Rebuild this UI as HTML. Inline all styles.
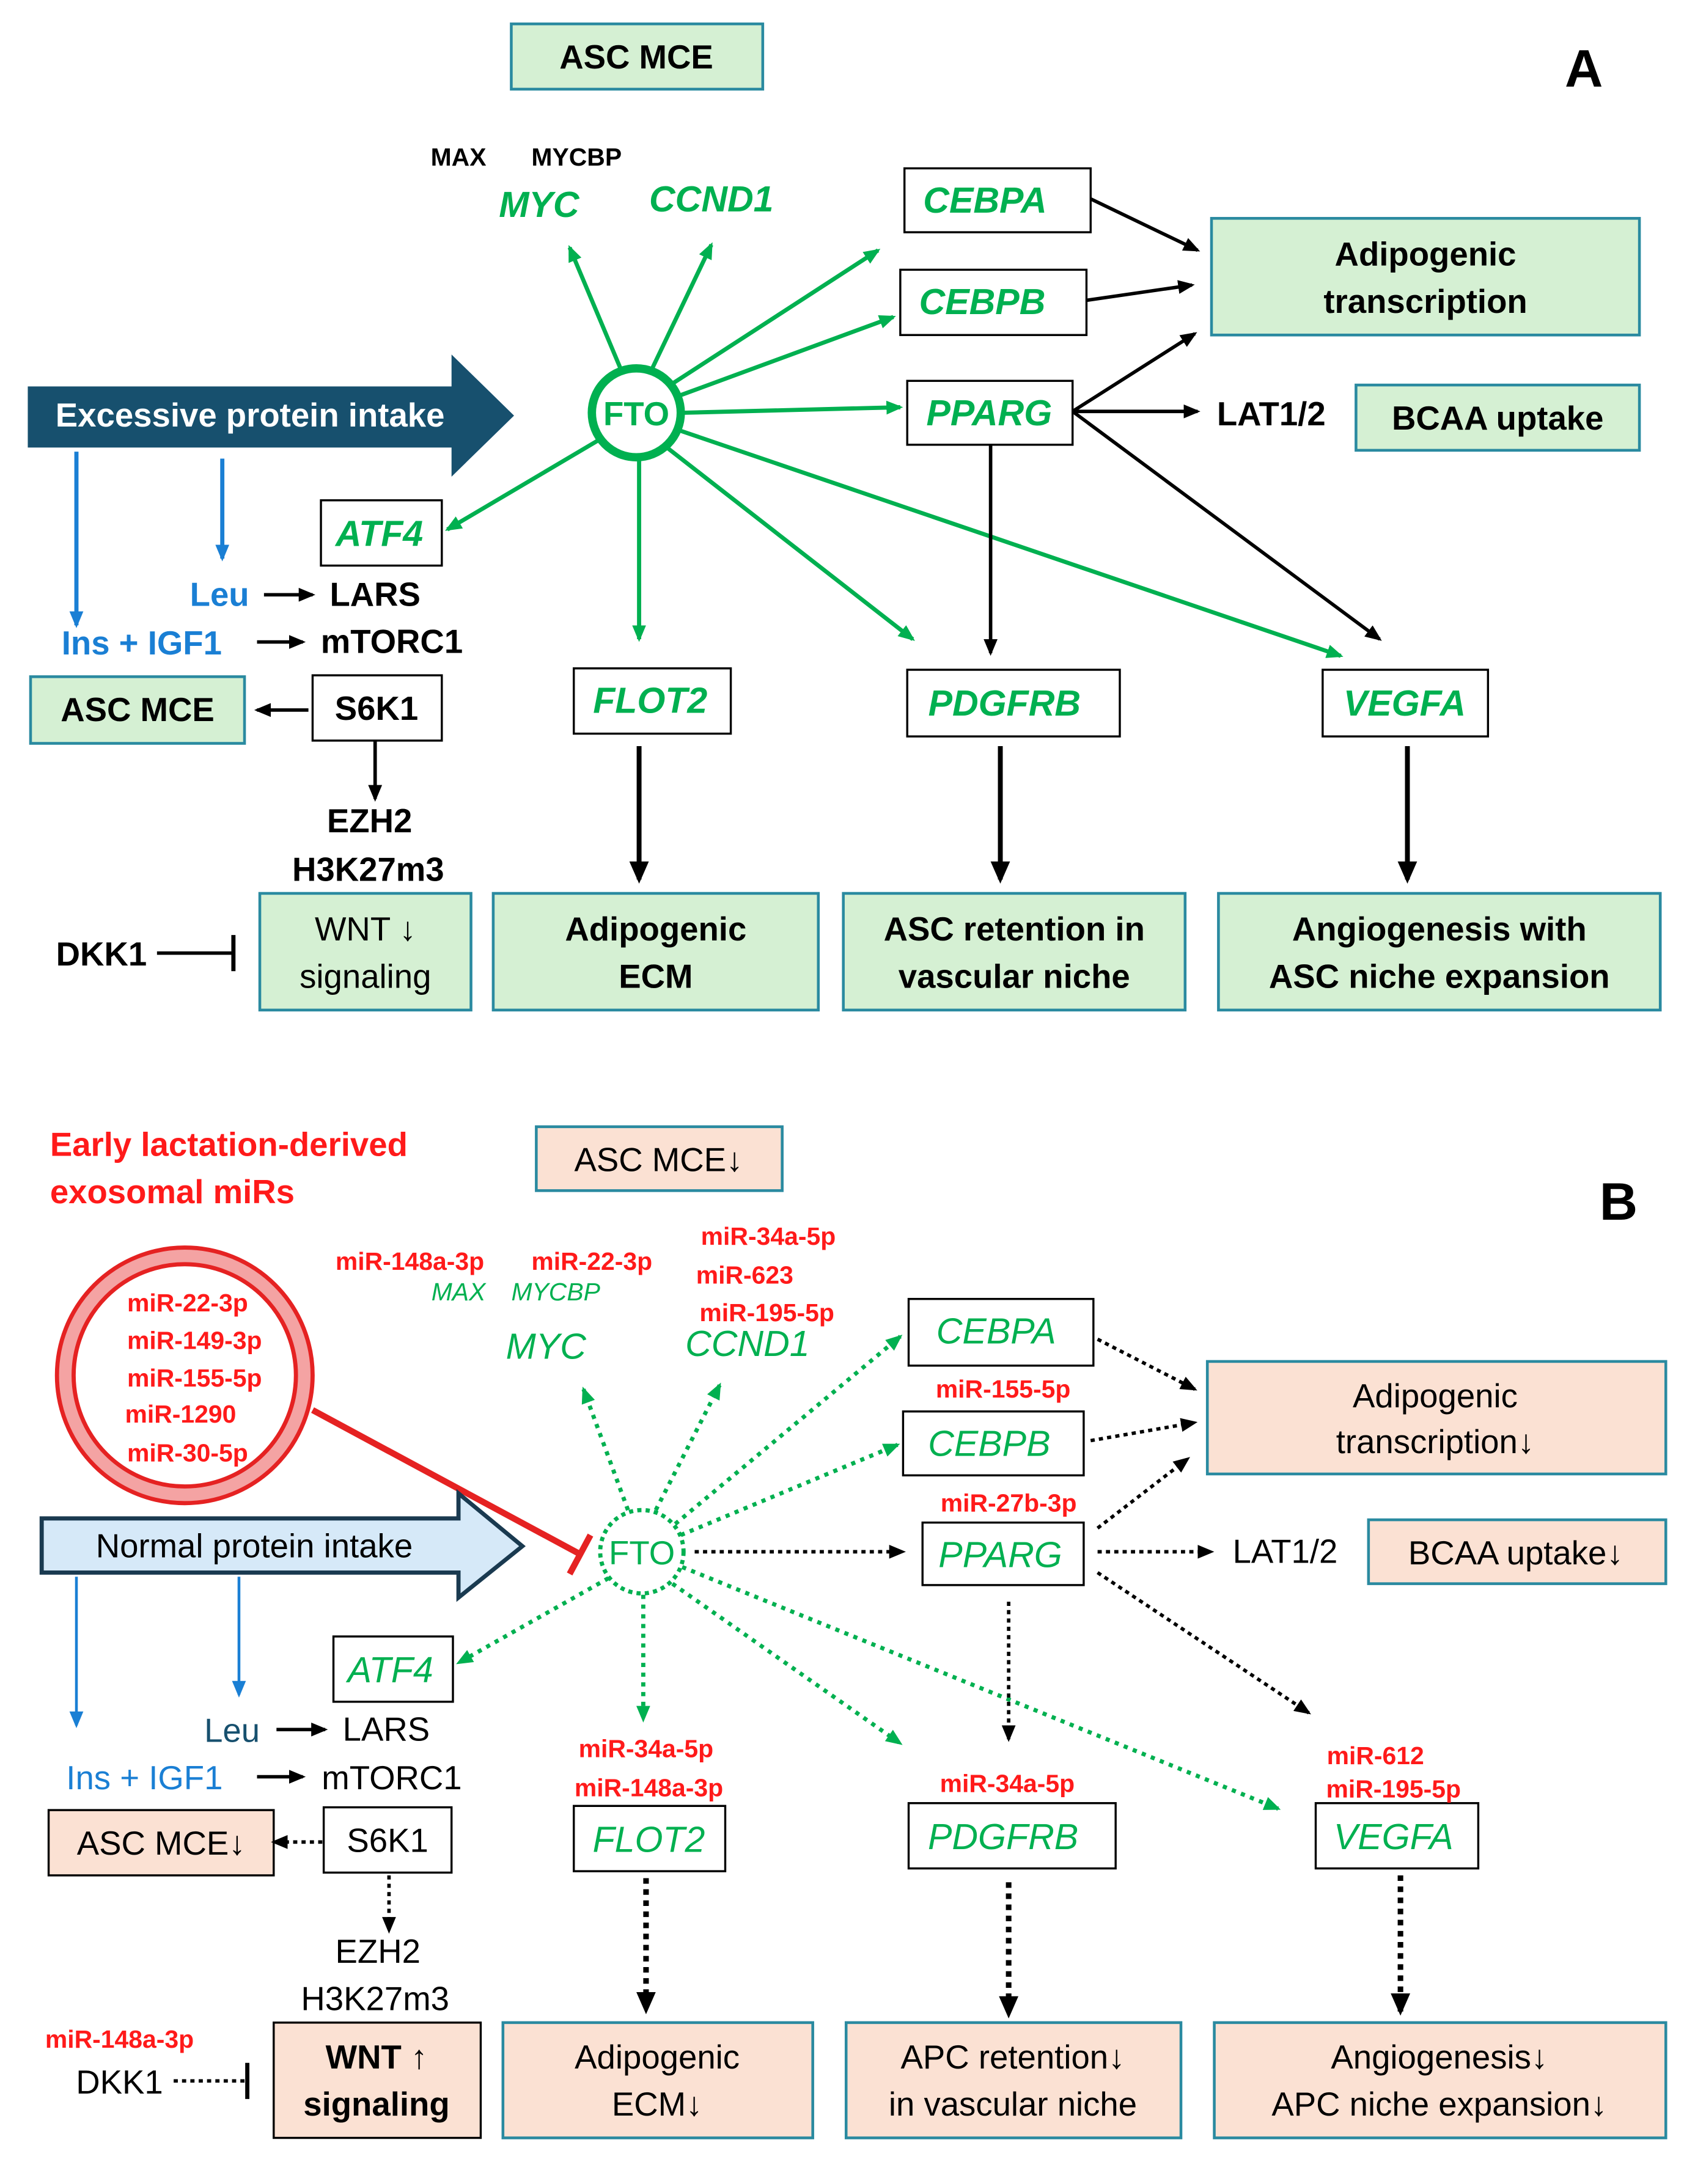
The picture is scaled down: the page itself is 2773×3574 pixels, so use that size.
<!DOCTYPE html>
<html><head><meta charset="utf-8"><style>
html,body{margin:0;padding:0;background:#fff}
svg{display:block}
text{font-family:"Liberation Sans",sans-serif}
.b{font-weight:bold}
.g{fill:#00b050;font-style:italic;font-weight:bold}
.gn{fill:#00b050;font-style:italic}
.r{fill:#ff1a1a;font-weight:bold}
</style></head><body>
<svg width="2773" height="3574" viewBox="0 0 1220 1572" xmlns="http://www.w3.org/2000/svg">
<defs>
<marker id="ag" markerUnits="userSpaceOnUse" markerWidth="12" markerHeight="10" refX="10" refY="5" orient="auto"><path d="M0,0 L12,5 L0,10 z" fill="#00b050"/></marker>
<marker id="ak" markerUnits="userSpaceOnUse" markerWidth="12" markerHeight="10" refX="10" refY="5" orient="auto"><path d="M0,0 L12,5 L0,10 z" fill="#000"/></marker>
<marker id="ab" markerUnits="userSpaceOnUse" markerWidth="12" markerHeight="10" refX="10" refY="5" orient="auto"><path d="M0,0 L12,5 L0,10 z" fill="#1a7fd4"/></marker>
<marker id="akb" markerUnits="userSpaceOnUse" markerWidth="16" markerHeight="14" refX="13" refY="7" orient="auto"><path d="M0,0 L16,7 L0,14 z" fill="#000"/></marker>
</defs>
<rect width="1220" height="1572" fill="#fff"/>

<!-- ===== PANEL A ===== -->
<g stroke="#2a8aa0" stroke-width="2" fill="#d5f0d3">
<rect x="368" y="17" width="181" height="47"/>
<rect x="872" y="157" width="308" height="84"/>
<rect x="976" y="277" width="204" height="47"/>
<rect x="22" y="487" width="154" height="48"/>
<rect x="187" y="643" width="152" height="84"/>
<rect x="355" y="643" width="234" height="84"/>
<rect x="607" y="643" width="246" height="84"/>
<rect x="877" y="643" width="318" height="84"/>
</g>
<g stroke="#000" stroke-width="1.5" fill="#fff">
<rect x="651" y="121" width="134" height="46"/>
<rect x="648" y="194" width="134" height="47"/>
<rect x="653" y="274" width="119" height="46"/>
<rect x="231" y="360" width="87" height="47"/>
<rect x="225" y="486" width="93" height="47"/>
<rect x="413" y="481" width="113" height="47"/>
<rect x="653" y="482" width="153" height="48"/>
<rect x="952" y="482" width="119" height="48"/>
</g>
<g class="b" font-size="24" text-anchor="middle">
<text x="458" y="49">ASC MCE</text>
<text x="1026" y="191">Adipogenic</text>
<text x="1026" y="225">transcription</text>
<text x="1078" y="309">BCAA uptake</text>
<text x="99" y="519">ASC MCE</text>
<text x="472" y="677">Adipogenic</text>
<text x="472" y="711">ECM</text>
<text x="730" y="677">ASC retention in</text>
<text x="730" y="711">vascular niche</text>
<text x="1036" y="677">Angiogenesis with</text>
<text x="1036" y="711">ASC niche expansion</text>
<text x="271" y="518">S6K1</text>
<text x="915" y="306">LAT1/2</text>
<text x="270" y="436">LARS</text>
<text x="282" y="470">mTORC1</text>
<text x="266" y="599">EZH2</text>
<text x="265" y="634">H3K27m3</text>
<text x="73" y="695">DKK1</text>
</g>
<text x="263" y="677" font-size="24" text-anchor="middle">WNT ↓</text>
<text x="263" y="711" font-size="24" text-anchor="middle">signaling</text>
<text x="1140" y="62" class="b" font-size="38" text-anchor="middle">A</text>
<text x="330" y="119" class="b" font-size="18" text-anchor="middle">MAX</text>
<text x="415" y="119" class="b" font-size="18" text-anchor="middle">MYCBP</text>
<g class="g" font-size="26" text-anchor="middle">
<text x="388" y="156">MYC</text>
<text x="512" y="152">CCND1</text>
<text x="709" y="153">CEBPA</text>
<text x="707" y="226">CEBPB</text>
<text x="712" y="306">PPARG</text>
<text x="273" y="393">ATF4</text>
<text x="468" y="513">FLOT2</text>
<text x="723" y="515">PDGFRB</text>
<text x="1011" y="515">VEGFA</text>
</g>
<g class="b" font-size="24" fill="#1a7fd4" text-anchor="middle">
<text x="158" y="436">Leu</text>
<text x="102" y="471">Ins + IGF1</text>
</g>
<path d="M20,278 L325,278 L325,255 L370,299 L325,343 L325,322 L20,322 z" fill="#17506e"/>
<text x="180" y="307" class="b" font-size="24" fill="#fff" text-anchor="middle">Excessive protein intake</text>
<circle cx="458" cy="297" r="32" fill="#fff" stroke="#00b050" stroke-width="6"/>
<text x="458" y="306" class="b" font-size="24" fill="#00b050" text-anchor="middle">FTO</text>
<g stroke="#00b050" stroke-width="3" marker-end="url(#ag)">
<line x1="447" y1="266" x2="410" y2="178"/>
<line x1="469" y1="266" x2="512" y2="176"/>
<line x1="484" y1="276" x2="632" y2="180"/>
<line x1="488" y1="285" x2="643" y2="228"/>
<line x1="491" y1="297" x2="648" y2="293"/>
<line x1="432" y1="316" x2="322" y2="381"/>
<line x1="460" y1="330" x2="460" y2="460"/>
<line x1="480" y1="322" x2="657" y2="460"/>
<line x1="490" y1="310" x2="965" y2="472"/>
</g>
<g stroke="#000" stroke-width="2.5" marker-end="url(#ak)">
<line x1="785" y1="143" x2="862" y2="180"/>
<line x1="782" y1="216" x2="858" y2="205"/>
<line x1="772" y1="296" x2="860" y2="240"/>
<line x1="772" y1="296" x2="862" y2="296"/>
<line x1="772" y1="296" x2="993" y2="460"/>
<line x1="713" y1="320" x2="713" y2="470"/>
<line x1="190" y1="428" x2="225" y2="428"/>
<line x1="185" y1="462" x2="218" y2="462"/>
<line x1="222" y1="511" x2="185" y2="511"/>
<line x1="270" y1="533" x2="270" y2="575"/>
</g>
<g stroke="#000" stroke-width="3.5" marker-end="url(#akb)">
<line x1="460" y1="537" x2="460" y2="633"/>
<line x1="720" y1="537" x2="720" y2="633"/>
<line x1="1013" y1="537" x2="1013" y2="633"/>
</g>
<g stroke="#1a7fd4" stroke-width="3" marker-end="url(#ab)">
<line x1="55" y1="325" x2="55" y2="450"/>
<line x1="160" y1="330" x2="160" y2="402"/>
</g>
<line x1="113" y1="686" x2="168" y2="686" stroke="#000" stroke-width="2.5"/>
<line x1="168" y1="673" x2="168" y2="699" stroke="#000" stroke-width="3"/>

<!-- ===== PANEL B ===== -->
<g stroke="#2a8aa0" stroke-width="2" fill="#fbe1d3">
<rect x="386" y="811" width="177" height="46"/>
<rect x="869" y="980" width="330" height="81"/>
<rect x="985" y="1094" width="214" height="46"/>
<rect x="362" y="1456" width="223" height="83"/>
<rect x="609" y="1456" width="241" height="83"/>
<rect x="874" y="1456" width="325" height="83"/>
</g>
<g stroke="#000" stroke-width="1.5" fill="#fbe1d3">
<rect x="35" y="1303" width="162" height="47"/>
<rect x="197" y="1456" width="149" height="83"/>
</g>
<g stroke="#000" stroke-width="1.5" fill="#fff">
<rect x="654" y="935" width="133" height="48"/>
<rect x="650" y="1016" width="130" height="46"/>
<rect x="664" y="1096" width="116" height="45"/>
<rect x="240" y="1178" width="86" height="47"/>
<rect x="233" y="1301" width="92" height="47"/>
<rect x="413" y="1300" width="109" height="47"/>
<rect x="654" y="1298" width="149" height="47"/>
<rect x="947" y="1298" width="117" height="47"/>
</g>
<g font-size="24" text-anchor="middle">
<text x="474" y="843">ASC MCE↓</text>
<text x="1033" y="1013">Adipogenic</text>
<text x="1033" y="1046">transcription↓</text>
<text x="1091" y="1126">BCAA uptake↓</text>
<text x="925" y="1125">LAT1/2</text>
<text x="278" y="1253">LARS</text>
<text x="282" y="1288">mTORC1</text>
<text x="116" y="1335">ASC MCE↓</text>
<text x="279" y="1333">S6K1</text>
<text x="272" y="1413">EZH2</text>
<text x="270" y="1447">H3K27m3</text>
<text x="86" y="1507">DKK1</text>
<text x="473" y="1489">Adipogenic</text>
<text x="473" y="1523">ECM↓</text>
<text x="729" y="1489">APC retention↓</text>
<text x="729" y="1523">in vascular niche</text>
<text x="1036" y="1489">Angiogenesis↓</text>
<text x="1036" y="1523">APC niche expansion↓</text>
</g>
<text x="271" y="1489" class="b" font-size="24" text-anchor="middle">WNT ↑</text>
<text x="271" y="1523" class="b" font-size="24" text-anchor="middle">signaling</text>
<text x="1165" y="878" class="b" font-size="38" text-anchor="middle">B</text>
<text x="36" y="832" class="r" font-size="24">Early lactation-derived</text>
<text x="36" y="866" class="r" font-size="24">exosomal miRs</text>
<g class="r" font-size="18" text-anchor="middle">
<text x="295" y="914">miR-148a-3p</text>
<text x="426" y="914">miR-22-3p</text>
<text x="553" y="896">miR-34a-5p</text>
<text x="536" y="924">miR-623</text>
<text x="552" y="951">miR-195-5p</text>
<text x="722" y="1006">miR-155-5p</text>
<text x="726" y="1088">miR-27b-3p</text>
<text x="465" y="1265">miR-34a-5p</text>
<text x="467" y="1293">miR-148a-3p</text>
<text x="725" y="1290">miR-34a-5p</text>
<text x="990" y="1270">miR-612</text>
<text x="1003" y="1294">miR-195-5p</text>
<text x="86" y="1474">miR-148a-3p</text>
<text x="135" y="944">miR-22-3p</text>
<text x="140" y="971">miR-149-3p</text>
<text x="140" y="998">miR-155-5p</text>
<text x="130" y="1024">miR-1290</text>
<text x="135" y="1052">miR-30-5p</text>
</g>
<g class="gn" font-size="18" text-anchor="middle">
<text x="330" y="936">MAX</text>
<text x="400" y="936">MYCBP</text>
</g>
<g class="gn" font-size="26" text-anchor="middle">
<text x="393" y="978">MYC</text>
<text x="538" y="976">CCND1</text>
<text x="717" y="967">CEBPA</text>
<text x="712" y="1048">CEBPB</text>
<text x="720" y="1128">PPARG</text>
<text x="281" y="1211">ATF4</text>
<text x="467" y="1333">FLOT2</text>
<text x="722" y="1331">PDGFRB</text>
<text x="1003" y="1331">VEGFA</text>
</g>
<g font-size="24" fill="#1a7fd4" text-anchor="middle">
<text x="167" y="1254" fill="#17506e">Leu</text>
<text x="104" y="1288">Ins + IGF1</text>
</g>
<circle cx="133" cy="990" r="86" fill="none" stroke="#f4a3a3" stroke-width="12"/>
<circle cx="133" cy="990" r="92" fill="none" stroke="#e52222" stroke-width="3"/>
<circle cx="133" cy="990" r="80" fill="none" stroke="#e52222" stroke-width="3"/>
<line x1="225" y1="1015" x2="418" y2="1119" stroke="#e52222" stroke-width="4.5"/>
<line x1="410" y1="1133" x2="425" y2="1105" stroke="#e52222" stroke-width="4.5"/>
<path d="M30,1093 L330,1093 L330,1075 L376,1113 L330,1150 L330,1132 L30,1132 z" fill="#d6e9f8" stroke="#1a3a50" stroke-width="3"/>
<text x="183" y="1121" font-size="24" text-anchor="middle">Normal protein intake</text>
<circle cx="462" cy="1117" r="30" fill="#fff" stroke="#00b050" stroke-width="3" stroke-dasharray="3 3"/>
<text x="462" y="1126" font-size="24" fill="#00b050" text-anchor="middle">FTO</text>
<g stroke="#00b050" stroke-width="3" stroke-dasharray="3 4" marker-end="url(#ag)">
<line x1="452" y1="1087" x2="420" y2="1000"/>
<line x1="472" y1="1087" x2="518" y2="997"/>
<line x1="486" y1="1097" x2="648" y2="962"/>
<line x1="490" y1="1105" x2="646" y2="1040"/>
<line x1="438" y1="1136" x2="330" y2="1197"/>
<line x1="463" y1="1148" x2="463" y2="1238"/>
<line x1="484" y1="1140" x2="648" y2="1255"/>
<line x1="491" y1="1128" x2="920" y2="1302"/>
</g>
<g stroke="#000" stroke-width="2.5" stroke-dasharray="3 3" marker-end="url(#ak)">
<line x1="500" y1="1117" x2="650" y2="1117"/>
<line x1="790" y1="964" x2="860" y2="1000"/>
<line x1="785" y1="1037" x2="860" y2="1024"/>
<line x1="790" y1="1100" x2="855" y2="1050"/>
<line x1="790" y1="1117" x2="872" y2="1117"/>
<line x1="790" y1="1132" x2="942" y2="1233"/>
<line x1="726" y1="1153" x2="726" y2="1252"/>
<line x1="232" y1="1326" x2="197" y2="1326"/>
<line x1="280" y1="1350" x2="280" y2="1390"/>
</g>
<g stroke="#000" stroke-width="4" stroke-dasharray="4 4" marker-end="url(#akb)">
<line x1="465" y1="1352" x2="465" y2="1447"/>
<line x1="726" y1="1355" x2="726" y2="1450"/>
<line x1="1008" y1="1350" x2="1008" y2="1448"/>
</g>
<g stroke="#1a7fd4" stroke-width="2" marker-end="url(#ab)">
<line x1="55" y1="1135" x2="55" y2="1242"/>
<line x1="172" y1="1135" x2="172" y2="1220"/>
</g>
<g stroke="#000" stroke-width="2.5" marker-end="url(#ak)">
<line x1="199" y1="1245" x2="234" y2="1245"/>
<line x1="185" y1="1279" x2="218" y2="1279"/>
</g>
<line x1="125" y1="1498" x2="176" y2="1498" stroke="#000" stroke-width="2.5" stroke-dasharray="3 3"/>
<line x1="178" y1="1485" x2="178" y2="1511" stroke="#000" stroke-width="3"/>
</svg>
</body></html>
